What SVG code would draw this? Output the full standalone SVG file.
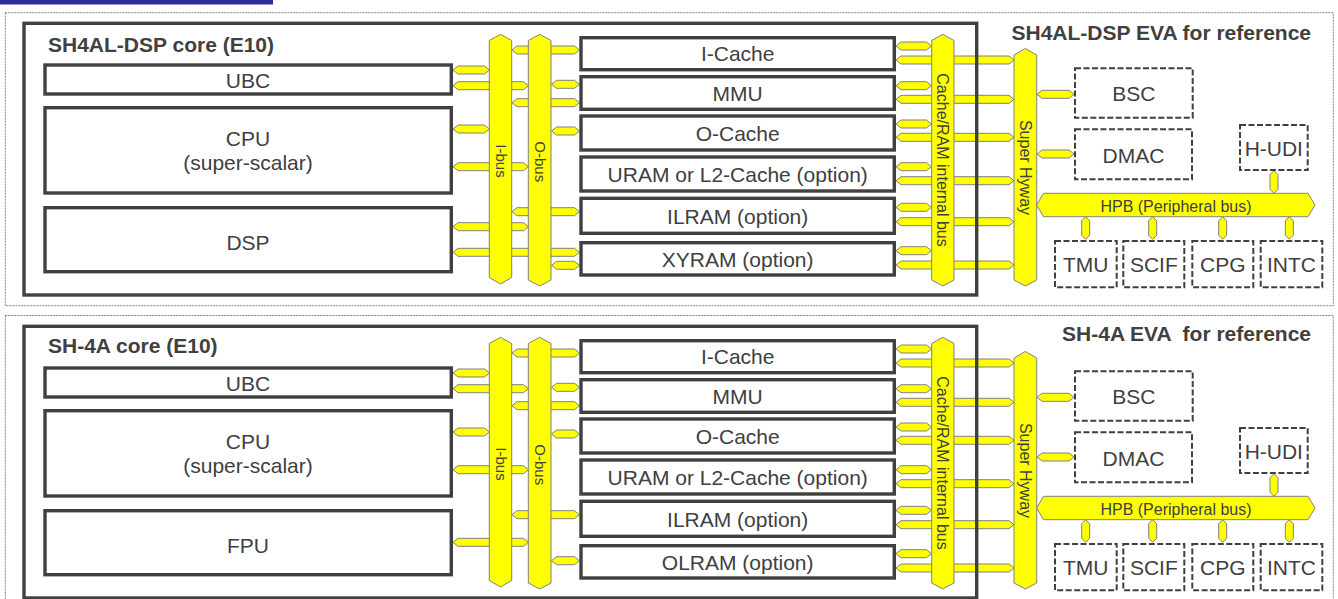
<svg xmlns="http://www.w3.org/2000/svg" width="1338" height="599" viewBox="0 0 1338 599">
<style>
.frame{fill:none;stroke:#808080;stroke-width:1;stroke-dasharray:2 1}
.core{fill:none;stroke:#404040;stroke-width:3.4}
.blk{fill:#fff;stroke:#404040;stroke-width:3.4}
.dash{fill:#fff;stroke:#404040;stroke-width:2;stroke-dasharray:6 2.5}
.bus{fill:#ffff00;stroke:#808080;stroke-width:1}
.t{font-family:"Liberation Sans",Arial,sans-serif;font-size:21px;fill:#404040;text-anchor:middle}
.ttl{font-weight:bold;text-anchor:start}
.end{text-anchor:end}
.bt{font-size:16px}
.bs{font-size:15px}
</style>
<rect x="0" y="0" width="1338" height="599" fill="#fff"/>
<rect x="0" y="0" width="273" height="4.5" fill="#2c2c9a"/>
<g id="frame-dsp"><rect class="frame" x="5.3" y="12.7" width="1328" height="293"/></g>
<g id="frame-4a"><rect class="frame" x="5.3" y="315.5" width="1328" height="293"/></g>

<g id="connectors" class="bus">
 <g id="conn-dsp">
  <polygon points="453,70 458,66 484.5,66 489.5,70 484.5,74 458,74"/>
  <polygon points="453,85.7 458,81.7 523.5,81.7 528.5,85.7 523.5,89.7 458,89.7"/>
  <polygon points="453,129 458,125 484.5,125 489.5,129 484.5,133 458,133"/>
  <polygon points="453,166.7 458,162.7 523.5,162.7 528.5,166.7 523.5,170.7 458,170.7"/>
  <polygon points="453,226.7 458,222.7 523.5,222.7 528.5,226.7 523.5,230.7 458,230.7"/>
  <polygon points="453,252.3 458,248.3 574.5,248.3 579.5,252.3 574.5,256.3 458,256.3"/>
  <polygon points="512,50 517,46 574.5,46 579.5,50 574.5,54 517,54"/>
  <polygon points="551.5,84.3 556.5,80.3 574.5,80.3 579.5,84.3 574.5,88.3 556.5,88.3"/>
  <polygon points="512,102.7 517,98.7 574.5,98.7 579.5,102.7 574.5,106.7 517,106.7"/>
  <polygon points="551.5,131 556.5,127 574.5,127 579.5,131 574.5,135 556.5,135"/>
  <polygon points="512,211.7 517,207.7 574.5,207.7 579.5,211.7 574.5,215.7 517,215.7"/>
  <polygon points="551.5,265.3 556.5,261.3 574.5,261.3 579.5,265.3 574.5,269.3 556.5,269.3"/>
  <polygon points="896,46 901,42 926.5,42 931.5,46 926.5,50 901,50"/>
  <polygon points="896,60 901,56 1009,56 1014,60 1009,64 901,64"/>
  <polygon points="896,85.7 901,81.7 926.5,81.7 931.5,85.7 926.5,89.7 901,89.7"/>
  <polygon points="896,99.3 901,95.3 1009,95.3 1014,99.3 1009,103.3 901,103.3"/>
  <polygon points="896,124 901,120 926.5,120 931.5,124 926.5,128 901,128"/>
  <polygon points="896,137.3 901,133.3 1009,133.3 1014,137.3 1009,141.3 901,141.3"/>
  <polygon points="896,166.7 901,162.7 926.5,162.7 931.5,166.7 926.5,170.7 901,170.7"/>
  <polygon points="896,180.7 901,176.7 1009,176.7 1014,180.7 1009,184.7 901,184.7"/>
  <polygon points="896,207.3 901,203.3 926.5,203.3 931.5,207.3 926.5,211.3 901,211.3"/>
  <polygon points="896,221.7 901,217.7 1009,217.7 1014,221.7 1009,225.7 901,225.7"/>
  <polygon points="896,250.7 901,246.7 926.5,246.7 931.5,250.7 926.5,254.7 901,254.7"/>
  <polygon points="896,265 901,261 1009,261 1014,265 1009,269 901,269"/>
  <polygon points="1037,94.3 1042,90.3 1069,90.3 1074,94.3 1069,98.3 1042,98.3"/>
  <polygon points="1037,154 1042,150 1069,150 1074,154 1069,158 1042,158"/>
  <polygon points="1274,170.7 1278,174.7 1278,189.3 1274,193.3 1270,189.3 1270,174.7"/>
  <polygon points="1085.7,216.7 1089.7,220.7 1089.7,235.3 1085.7,239.3 1081.7,235.3 1081.7,220.7"/>
  <polygon points="1152.7,216.7 1156.7,220.7 1156.7,235.3 1152.7,239.3 1148.7,235.3 1148.7,220.7"/>
  <polygon points="1222.7,216.7 1226.7,220.7 1226.7,235.3 1222.7,239.3 1218.7,235.3 1218.7,220.7"/>
  <polygon points="1289.3,216.7 1293.3,220.7 1293.3,235.3 1289.3,239.3 1285.3,235.3 1285.3,220.7"/>
 </g>
 <g id="conn-4a" transform="translate(0,303)">
  <polygon points="453,70 458,66 484.5,66 489.5,70 484.5,74 458,74"/>
  <polygon points="453,85.7 458,81.7 523.5,81.7 528.5,85.7 523.5,89.7 458,89.7"/>
  <polygon points="453,129 458,125 484.5,125 489.5,129 484.5,133 458,133"/>
  <polygon points="453,166.7 458,162.7 523.5,162.7 528.5,166.7 523.5,170.7 458,170.7"/>
  <polygon points="453,239.3 458,235.3 523.5,235.3 528.5,239.3 523.5,243.3 458,243.3"/>
  <polygon points="512,50 517,46 574.5,46 579.5,50 574.5,54 517,54"/>
  <polygon points="551.5,84.3 556.5,80.3 574.5,80.3 579.5,84.3 574.5,88.3 556.5,88.3"/>
  <polygon points="512,102.7 517,98.7 574.5,98.7 579.5,102.7 574.5,106.7 517,106.7"/>
  <polygon points="551.5,131 556.5,127 574.5,127 579.5,131 574.5,135 556.5,135"/>
  <polygon points="512,211.7 517,207.7 574.5,207.7 579.5,211.7 574.5,215.7 517,215.7"/>
  <polygon points="551.5,257.7 556.5,253.7 574.5,253.7 579.5,257.7 574.5,261.7 556.5,261.7"/>
  <polygon points="896,46 901,42 926.5,42 931.5,46 926.5,50 901,50"/>
  <polygon points="896,60 901,56 1009,56 1014,60 1009,64 901,64"/>
  <polygon points="896,85.7 901,81.7 926.5,81.7 931.5,85.7 926.5,89.7 901,89.7"/>
  <polygon points="896,99.3 901,95.3 1009,95.3 1014,99.3 1009,103.3 901,103.3"/>
  <polygon points="896,124 901,120 926.5,120 931.5,124 926.5,128 901,128"/>
  <polygon points="896,137.3 901,133.3 1009,133.3 1014,137.3 1009,141.3 901,141.3"/>
  <polygon points="896,166.7 901,162.7 926.5,162.7 931.5,166.7 926.5,170.7 901,170.7"/>
  <polygon points="896,180.7 901,176.7 1009,176.7 1014,180.7 1009,184.7 901,184.7"/>
  <polygon points="896,207.3 901,203.3 926.5,203.3 931.5,207.3 926.5,211.3 901,211.3"/>
  <polygon points="896,221.7 901,217.7 1009,217.7 1014,221.7 1009,225.7 901,225.7"/>
  <polygon points="896,250.7 901,246.7 926.5,246.7 931.5,250.7 926.5,254.7 901,254.7"/>
  <polygon points="896,265 901,261 1009,261 1014,265 1009,269 901,269"/>
  <polygon points="1037,94.3 1042,90.3 1069,90.3 1074,94.3 1069,98.3 1042,98.3"/>
  <polygon points="1037,154 1042,150 1069,150 1074,154 1069,158 1042,158"/>
  <polygon points="1274,170.7 1278,174.7 1278,189.3 1274,193.3 1270,189.3 1270,174.7"/>
  <polygon points="1085.7,216.7 1089.7,220.7 1089.7,235.3 1085.7,239.3 1081.7,235.3 1081.7,220.7"/>
  <polygon points="1152.7,216.7 1156.7,220.7 1156.7,235.3 1152.7,239.3 1148.7,235.3 1148.7,220.7"/>
  <polygon points="1222.7,216.7 1226.7,220.7 1226.7,235.3 1222.7,239.3 1218.7,235.3 1218.7,220.7"/>
  <polygon points="1289.3,216.7 1293.3,220.7 1293.3,235.3 1289.3,239.3 1285.3,235.3 1285.3,220.7"/>
 </g>
</g>

<g id="panel-dsp">
 <g id="dsp-ibus"><polygon class="bus" points="500.5,34.3 511.7,40.5 511.7,277.5 500.5,284 489.3,277.5 489.3,40.5"/><text class="t bs" transform="translate(500.5,161) rotate(90)" y="5">I-bus</text></g>
 <g id="dsp-obus"><polygon class="bus" points="539.7,34.3 551,40.5 551,280 539.7,286 528.3,280 528.3,40.5"/><text class="t bs" transform="translate(539.7,161.7) rotate(90)" y="5">O-bus</text></g>
 <g id="dsp-cachebus"><polygon class="bus" points="942.8,34.3 954,40.5 954,280 942.8,286 931.7,280 931.7,40.5"/><text class="t bt" transform="translate(942.8,160) rotate(90)" y="5.5">Cache/RAM internal bus</text></g>
 <g id="dsp-hyway"><polygon class="bus" points="1025.3,48.5 1036.7,55 1036.7,280 1025.3,286 1014,280 1014,55"/><text class="t bt" transform="translate(1025.3,167.5) rotate(90)" y="5.5">Super Hyway</text></g>
 <g id="dsp-hpb"><polygon class="bus" points="1036.7,205 1043.5,193.3 1308,193.3 1315,205 1308,216.7 1043.5,216.7"/><text class="t bt" x="1176" y="211.5">HPB (Peripheral bus)</text></g>
 <g id="dsp-core"><rect class="core" x="24" y="23.3" width="952.7" height="271.7"/><text class="t ttl" x="48" y="51.5">SH4AL-DSP core (E10)</text></g>
 <g id="dsp-ubc"><rect class="blk" x="45" y="65" width="406.3" height="29"/><text class="t" x="248" y="88">UBC</text></g>
 <g id="dsp-cpu"><rect class="blk" x="45" y="107.7" width="406.3" height="85.3"/><text class="t" x="248" y="146">CPU</text><text class="t" x="248" y="170">(super-scalar)</text></g>
 <g id="dsp-dsp"><rect class="blk" x="45" y="207.7" width="406.3" height="64"/><text class="t" x="248" y="250">DSP</text></g>
 <g id="dsp-icache"><rect class="blk" x="581" y="37.7" width="313.3" height="32"/><text class="t" x="737.7" y="61">I-Cache</text></g>
 <g id="dsp-mmu"><rect class="blk" x="581" y="76.7" width="313.3" height="32.6"/><text class="t" x="737.7" y="100.5">MMU</text></g>
 <g id="dsp-ocache"><rect class="blk" x="581" y="116" width="313.3" height="34"/><text class="t" x="737.7" y="140.5">O-Cache</text></g>
 <g id="dsp-uram"><rect class="blk" x="581" y="157" width="313.3" height="34"/><text class="t" x="737.7" y="181.5">URAM or L2-Cache (option)</text></g>
 <g id="dsp-ilram"><rect class="blk" x="581" y="198.3" width="313.3" height="35"/><text class="t" x="737.7" y="223.5">ILRAM (option)</text></g>
 <g id="dsp-xyram"><rect class="blk" x="581" y="242.7" width="313.3" height="32.3"/><text class="t" x="737.7" y="266.5">XYRAM (option)</text></g>
 <g id="dsp-eva"><text class="t ttl end" x="1311" y="40">SH4AL-DSP EVA for reference</text></g>
 <g id="dsp-bsc"><rect class="dash" x="1075" y="68.3" width="117.7" height="49.4"/><text class="t" x="1133.8" y="101">BSC</text></g>
 <g id="dsp-dmac"><rect class="dash" x="1075" y="129.3" width="117" height="50"/><text class="t" x="1133.5" y="162.5">DMAC</text></g>
 <g id="dsp-hudi"><rect class="dash" x="1240" y="125" width="67.7" height="45"/><text class="t" x="1273.8" y="156">H-UDI</text></g>
 <g id="dsp-tmu"><rect class="dash" x="1055" y="241" width="61.7" height="46.3"/><text class="t" x="1085.8" y="272">TMU</text></g>
 <g id="dsp-scif"><rect class="dash" x="1123.3" y="241" width="61" height="46.3"/><text class="t" x="1153.8" y="272">SCIF</text></g>
 <g id="dsp-cpg"><rect class="dash" x="1192.3" y="241" width="61" height="46.3"/><text class="t" x="1222.8" y="272">CPG</text></g>
 <g id="dsp-intc"><rect class="dash" x="1260.7" y="241" width="61.6" height="46.3"/><text class="t" x="1291.5" y="272">INTC</text></g>
</g>

<g id="panel-4a" transform="translate(0,303)">
 <g id="a-ibus"><polygon class="bus" points="500.5,34.3 511.7,40.5 511.7,277.5 500.5,284 489.3,277.5 489.3,40.5"/><text class="t bs" transform="translate(500.5,161) rotate(90)" y="5">I-bus</text></g>
 <g id="a-obus"><polygon class="bus" points="539.7,34.3 551,40.5 551,280 539.7,286 528.3,280 528.3,40.5"/><text class="t bs" transform="translate(539.7,161.7) rotate(90)" y="5">O-bus</text></g>
 <g id="a-cachebus"><polygon class="bus" points="942.8,34.3 954,40.5 954,280 942.8,286 931.7,280 931.7,40.5"/><text class="t bt" transform="translate(942.8,160) rotate(90)" y="5.5">Cache/RAM internal bus</text></g>
 <g id="a-hyway"><polygon class="bus" points="1025.3,48.5 1036.7,55 1036.7,280 1025.3,286 1014,280 1014,55"/><text class="t bt" transform="translate(1025.3,167.5) rotate(90)" y="5.5">Super Hyway</text></g>
 <g id="a-hpb"><polygon class="bus" points="1036.7,205 1043.5,193.3 1308,193.3 1315,205 1308,216.7 1043.5,216.7"/><text class="t bt" x="1176" y="211.5">HPB (Peripheral bus)</text></g>
 <g id="a-core"><rect class="core" x="24" y="23.3" width="952.7" height="271.7"/><text class="t ttl" x="48" y="49.5">SH-4A core (E10)</text></g>
 <g id="a-ubc"><rect class="blk" x="45" y="65" width="406.3" height="29"/><text class="t" x="248" y="88">UBC</text></g>
 <g id="a-cpu"><rect class="blk" x="45" y="107.7" width="406.3" height="85.3"/><text class="t" x="248" y="146">CPU</text><text class="t" x="248" y="170">(super-scalar)</text></g>
 <g id="a-fpu"><rect class="blk" x="45" y="207.7" width="406.3" height="64"/><text class="t" x="248" y="250">FPU</text></g>
 <g id="a-icache"><rect class="blk" x="581" y="37.7" width="313.3" height="32"/><text class="t" x="737.7" y="61">I-Cache</text></g>
 <g id="a-mmu"><rect class="blk" x="581" y="76.7" width="313.3" height="32.6"/><text class="t" x="737.7" y="100.5">MMU</text></g>
 <g id="a-ocache"><rect class="blk" x="581" y="116" width="313.3" height="34"/><text class="t" x="737.7" y="140.5">O-Cache</text></g>
 <g id="a-uram"><rect class="blk" x="581" y="157" width="313.3" height="34"/><text class="t" x="737.7" y="181.5">URAM or L2-Cache (option)</text></g>
 <g id="a-ilram"><rect class="blk" x="581" y="198.3" width="313.3" height="35"/><text class="t" x="737.7" y="223.5">ILRAM (option)</text></g>
 <g id="a-olram"><rect class="blk" x="581" y="242.7" width="313.3" height="32.3"/><text class="t" x="737.7" y="266.5">OLRAM (option)</text></g>
 <g id="a-eva"><text class="t ttl end" x="1311" y="38" xml:space="preserve">SH-4A EVA  for reference</text></g>
 <g id="a-bsc"><rect class="dash" x="1075" y="68.3" width="117.7" height="49.4"/><text class="t" x="1133.8" y="101">BSC</text></g>
 <g id="a-dmac"><rect class="dash" x="1075" y="129.3" width="117" height="50"/><text class="t" x="1133.5" y="162.5">DMAC</text></g>
 <g id="a-hudi"><rect class="dash" x="1240" y="125" width="67.7" height="45"/><text class="t" x="1273.8" y="156">H-UDI</text></g>
 <g id="a-tmu"><rect class="dash" x="1055" y="241" width="61.7" height="46.3"/><text class="t" x="1085.8" y="272">TMU</text></g>
 <g id="a-scif"><rect class="dash" x="1123.3" y="241" width="61" height="46.3"/><text class="t" x="1153.8" y="272">SCIF</text></g>
 <g id="a-cpg"><rect class="dash" x="1192.3" y="241" width="61" height="46.3"/><text class="t" x="1222.8" y="272">CPG</text></g>
 <g id="a-intc"><rect class="dash" x="1260.7" y="241" width="61.6" height="46.3"/><text class="t" x="1291.5" y="272">INTC</text></g>
</g>
</svg>
